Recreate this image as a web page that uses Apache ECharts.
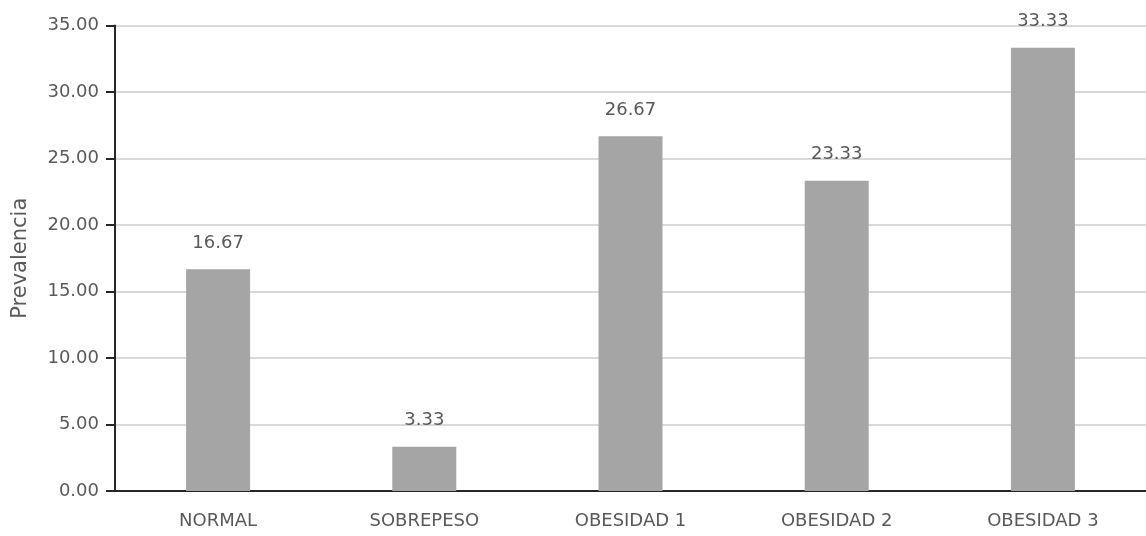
<!DOCTYPE html>
<html>
<head>
<meta charset="utf-8">
<script src="https://cdn.jsdelivr.net/npm/echarts@6/dist/echarts.min.js"></script>
<style>
  html, body { margin: 0; padding: 0; background: #ffffff; }
  #chart { width: 1146px; height: 536px; }
</style>
</head>
<body>
<div id="chart"></div>
<script>
// Prevalence by BMI category
const categories = ['NORMAL', 'SOBREPESO', 'OBESIDAD 1', 'OBESIDAD 2', 'OBESIDAD 3'];
const prevalence = [16.67, 3.33, 26.67, 23.33, 33.33];
const yAxisName = 'Prevalencia';

const textColor = '#595959';
const fontFamily = '"DejaVu Sans", "Noto Sans", sans-serif';

const chart = echarts.init(document.getElementById('chart'), null, { renderer: 'canvas' });
chart.setOption({
  animation: false,
  grid: { left: 115, right: -2, top: 25.5, bottom: 45, containLabel: false },
  xAxis: {
    type: 'category',
    data: categories,
    axisLine: { show: true, lineStyle: { color: '#262626', width: 2 } },
    axisTick: { show: false },
    axisLabel: { color: textColor, fontSize: 18, fontFamily: fontFamily, margin: 21 }
  },
  yAxis: {
    type: 'value',
    min: 0,
    max: 35,
    interval: 5,
    name: yAxisName,
    nameLocation: 'middle',
    nameGap: 84,
    nameTextStyle: { color: textColor, fontSize: 21, fontFamily: fontFamily },
    axisLine: { show: true, lineStyle: { color: '#262626', width: 2 } },
    axisTick: { show: true, length: 9, lineStyle: { color: '#262626', width: 2 } },
    axisLabel: {
      color: textColor, fontSize: 18, fontFamily: fontFamily, margin: 16,
      formatter: v => v.toFixed(2)
    },
    splitLine: { show: true, lineStyle: { color: '#d9d9d9', width: 2 } }
  },
  series: [{
    type: 'bar',
    data: prevalence,
    barWidth: 64,
    itemStyle: { color: '#a5a5a5' },
    label: {
      show: true,
      position: 'top',
      distance: 17,
      color: textColor,
      fontSize: 18,
      fontFamily: fontFamily,
      formatter: p => p.value.toFixed(2)
    }
  }]
});
</script>
</body>
</html>
